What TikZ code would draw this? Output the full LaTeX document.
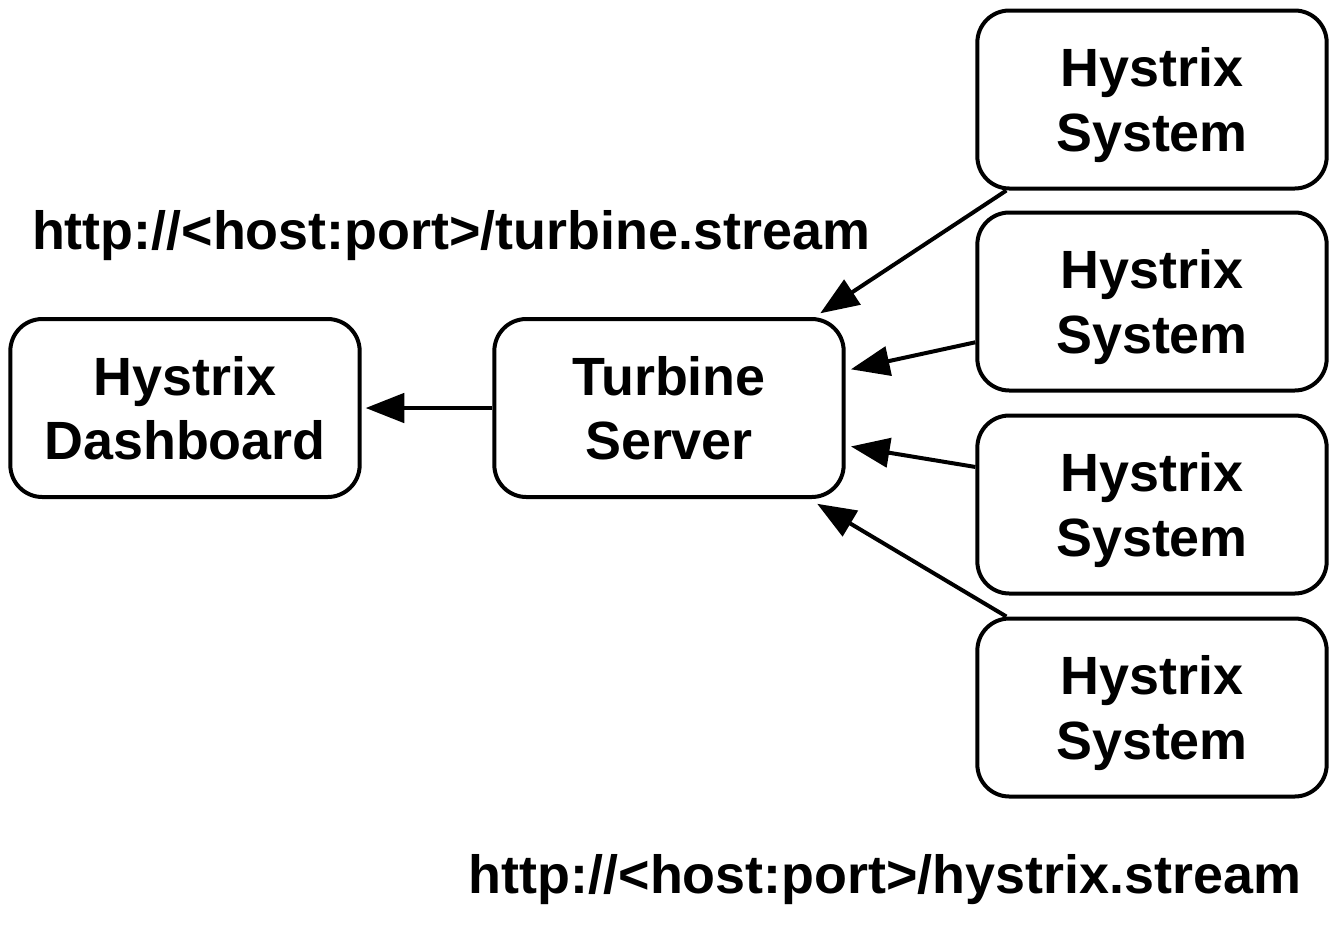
\documentclass[tikz,border=0pt]{standalone}
\usepackage{fontspec}
\setmainfont{Liberation Sans}
\usetikzlibrary{arrows.meta}

\begin{document}
\begin{tikzpicture} [x = 0.75pt, y = -0.75pt,
    box/.style = {draw,
    rounded corners = 24pt,
    line width = 3pt,
    minimum width = 262pt,
    minimum height = 133.5pt,
    text depth = 0pt,
    align = center,
    font = \bfseries\fontsize{40.4}{48.5}\selectfont},
    url/.style = {font = \bfseries\fontsize{40.4}{48.5}\selectfont},
    feed/.style = {-{Triangle[length = 29pt, width = 22pt]},
    line width = 3pt}]

\useasboundingbox (0,0) rectangle (1333,929);

\node (dash) at (185,408) [box] {Hystrix\\Dashboard};
\node (turb) at (669,408) [box] {Turbine\\Server};
\foreach \y [count = \i] in {99.5, 301.5, 504.5, 707.5}
  \node (sys\i) at (1152,\y) [box] {Hystrix\\System};

\node (turbURL) at (451,236) [url] {http://<host:port>/turbine.stream};
\node (sysURL) at (885,880) [url] {http://<host:port>/hystrix.stream};

\draw [feed, shorten > = 3pt] (turb) -- (dash);
\draw [feed, shorten > = 5pt] (sys1.212.6) -- (turb.32.6);
\draw [feed, shorten > = 4pt] (sys2.193) -- (turb.12.5);
\draw [feed, shorten > = 4pt] (sys3.168.2) -- (turb.348.1);
\draw [feed, shorten > = 7pt] (sys4.148.1) -- (turb.327.7);

\end{tikzpicture}
\end{document}
